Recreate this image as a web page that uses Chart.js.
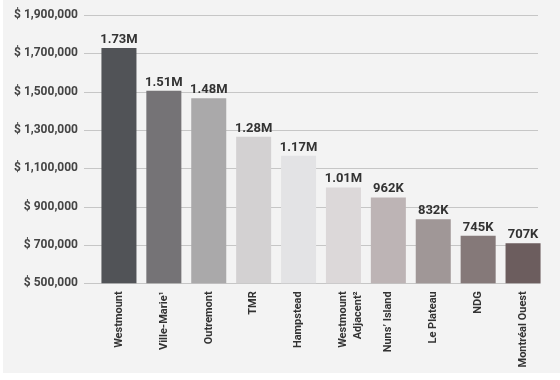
<!DOCTYPE html>
<html>
<head>
<meta charset="utf-8">
<script src="https://cdn.jsdelivr.net/npm/chart.js@4/dist/chart.umd.min.js"></script>
<style>
  html, body { margin: 0; padding: 0; background: #ffffff; }
  #wrap { position: relative; width: 560px; height: 380px; }
  #panel { position: absolute; left: 3px; top: 0; width: 557px; height: 373px; background: #f3f3f3; }
  canvas { position: absolute; left: 0; top: 0; }
</style>
</head>
<body>
<div id="wrap">
  <div id="panel"></div>
  <canvas id="c" width="560" height="380"></canvas>
</div>
<script>
const categories = [
  "Westmount",
  "Ville-Marie\u00b9",
  "Outremont",
  "TMR",
  "Hampstead",
  ["Westmount", "Adjacent\u00b2"],
  "Nuns\u2019 Island",
  "Le Plateau",
  "NDG",
  "Montr\u00e9al Ouest"
];
const prices = [1728000, 1505000, 1465000, 1265000, 1166000, 1000000, 948000, 834000, 748000, 709000];
const valueLabels = ["1.73M", "1.51M", "1.48M", "1.28M", "1.17M", "1.01M", "962K", "832K", "745K", "707K"];
const barColors = ["#515357", "#757376", "#aaa9aa", "#d3d1d2", "#e3e3e5", "#dcd8d9", "#bdb4b5", "#a09797", "#857979", "#6c5d5e"];
const yTicks = [500000, 700000, 900000, 1100000, 1300000, 1500000, 1700000, 1900000];

const gridPlugin = {
  id: 'customGrid',
  beforeDatasetsDraw(chart) {
    const ctx = chart.ctx;
    const y = chart.scales.y;
    const area = chart.chartArea;
    ctx.save();
    ctx.strokeStyle = '#c6c6c6';
    ctx.lineWidth = 1;
    y.ticks.forEach((t, i) => {
      const py = Math.round(y.getPixelForValue(t.value)) + 0.5;
      ctx.beginPath();
      ctx.moveTo(area.left - 12.5, py);
      ctx.lineTo(i === 0 ? area.right - 5 : area.right - 7.5, py);
      ctx.stroke();
    });
    ctx.restore();
  }
};

const labelPlugin = {
  id: 'valueLabels',
  afterDatasetsDraw(chart) {
    const ctx = chart.ctx;
    const meta = chart.getDatasetMeta(0);
    ctx.save();
    ctx.font = 'bold 13px Roboto';
    ctx.fillStyle = '#333333';
    ctx.textAlign = 'center';
    ctx.textBaseline = 'alphabetic';
    meta.data.forEach((bar, i) => {
      ctx.fillText(valueLabels[i], bar.x, bar.y - 5);
    });
    ctx.restore();
  }
};

new Chart(document.getElementById('c'), {
  type: 'bar',
  data: {
    labels: categories,
    datasets: [{
      data: prices,
      backgroundColor: barColors,
      borderWidth: 0,
      categoryPercentage: 1,
      barPercentage: 0.78
    }]
  },
  options: {
    responsive: false,
    animation: false,
    layout: { padding: { left: 0, right: 14.5, top: 15, bottom: 0 } },
    plugins: { legend: { display: false }, tooltip: { enabled: false } },
    scales: {
      x: {
        grid: { display: false, drawTicks: false },
        border: { display: false },
        ticks: {
          autoSkip: false,
          minRotation: 90,
          maxRotation: 90,
          padding: 8,
          color: '#333333',
          font: { family: 'Roboto', size: 11, weight: 'bold', lineHeight: 1.35 }
        },
        afterFit(scale) { scale.height = 96.7; }
      },
      y: {
        min: 500000,
        max: 1900000,
        grid: { display: false, drawTicks: true, tickLength: 12.5 },
        border: { display: false },
        afterBuildTicks(scale) { scale.ticks = yTicks.map(v => ({ value: v })); },
        ticks: {
          padding: 6,
          color: '#444444',
          font: { family: 'Roboto', size: 12, weight: 'bold' },
          callback: (v) => '$ ' + Number(v).toLocaleString('en-US')
        },
        afterFit(scale) { scale.width = 96.5; }
      }
    }
  },
  plugins: [gridPlugin, labelPlugin]
});
</script>
</body>
</html>
